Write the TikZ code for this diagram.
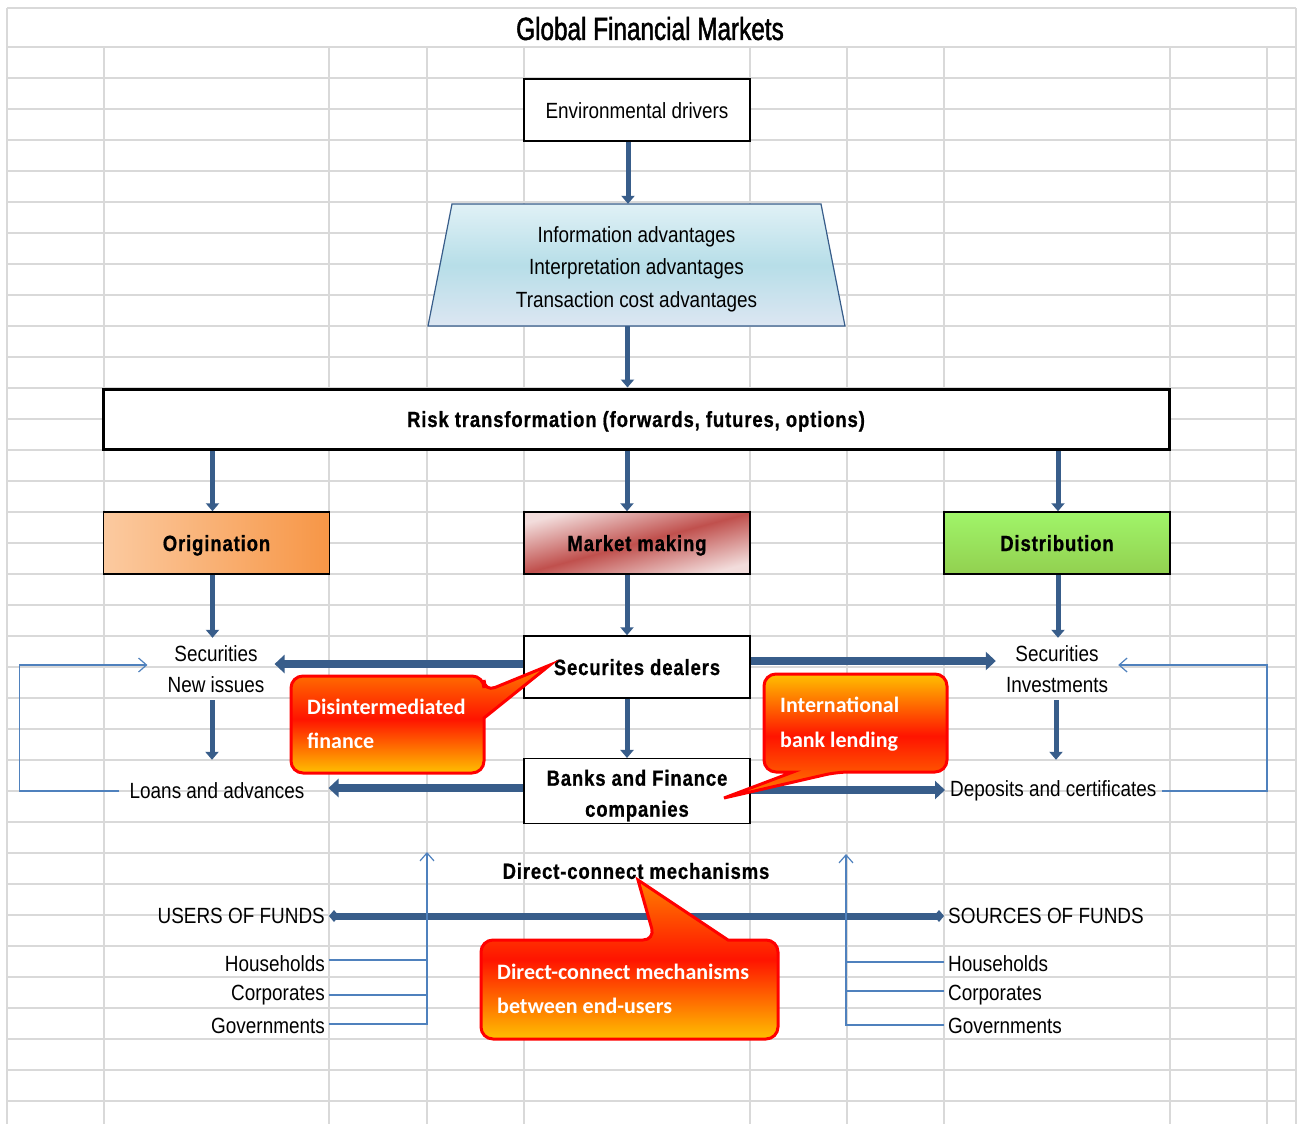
\documentclass[tikz,border=0pt]{standalone}
\usepackage{fontspec}
\setmainfont{Liberation Sans}[FakeStretch=0.86]
\newfontfamily\headfont{Liberation Sans}[FakeStretch=0.84,LetterSpace=4,FakeBold=0.8]
\newfontfamily\titlefont{Liberation Sans}[FakeStretch=0.76,FakeBold=1.5]
\newfontfamily\notefont{Carlito}
\definecolor{flowblue}{RGB}{56,93,138}
\definecolor{linkblue}{RGB}{79,129,189}
\definecolor{gridgray}{RGB}{217,217,217}
\definecolor{trapTop}{RGB}{224,241,246}
\definecolor{trapMid}{RGB}{183,222,232}
\definecolor{trapBot}{RGB}{220,230,242}
\definecolor{origLight}{RGB}{251,202,160}
\definecolor{origDark}{RGB}{247,150,70}
\definecolor{mmLight}{RGB}{242,220,219}
\definecolor{mmDark}{RGB}{192,80,77}
\definecolor{distLight}{RGB}{160,245,105}
\definecolor{distDark}{RGB}{146,208,80}
\definecolor{fireorange}{RGB}{255,128,0}
\definecolor{firered}{RGB}{255,20,0}
\definecolor{firegold}{RGB}{255,192,0}
\usetikzlibrary{arrows.meta}

\begin{document}
\begin{tikzpicture}[x=1pt,y=-1pt,
    gridline/.style={gridgray,line width=1.5pt},
    flow/.style={flowblue,line width=5pt,-{Triangle[width=13pt,length=8pt]}},
    wideflow/.style={flowblue,line width=8pt,-{Triangle[width=18pt,length=10pt]}},
    fundline/.style={flowblue,line width=7pt,{Diamond[width=12pt,length=10pt]}-{Diamond[width=12pt,length=10pt]}},
    link/.style={linkblue,line width=1.2pt},
    linkto/.style={link,-{Straight Barb[width=14pt,length=8pt]}},
    txt/.style={font=\fontsize{22}{31}\selectfont,inner ysep=0pt,inner xsep=4pt},
    head/.style={font=\headfont\bfseries\fontsize{22}{31}\selectfont},
    oneline/.style={text height=16pt,text depth=0pt},
    cell/.style={draw,line width=1.5pt,minimum width=226pt,minimum height=62pt,inner sep=2pt},
    bubble/.style={draw=red,line width=3pt,rounded corners=12pt},
    bubbletxt/.style={text=white,align=left,anchor=west,inner sep=0pt,
      font=\notefont\bfseries\fontsize{22}{34.5}\selectfont}]
  \fill[white] (0,0) rectangle (1304,1124);
  \foreach \gy in {0,...,34}
    \draw[gridline] (7,{47+31*\gy}) -- (1296,{47+31*\gy});
  \draw[gridline] (7,8) -- (1296,8);
  \foreach \gx in {7,1296}
    \draw[gridline] (\gx,8) -- (\gx,1124);
  \foreach \gx in {104,329,427,524,750,847,944,1170,1267}
    \draw[gridline] (\gx,47) -- (\gx,1124);

  \node[font=\titlefont\fontsize{32}{36}\selectfont] (title) at (650,28.5) {Global Financial Markets};

  \node[cell,fill=white,txt,oneline] (env) at (637,110) {Environmental drivers};
  \shadedraw[top color=trapTop,bottom color=trapBot,middle color=trapMid,draw=flowblue,line width=1.2pt]
    (452,204) -- (821,204) -- (845,326) -- (428,326) -- cycle;
  \node[align=center,minimum width=417pt,minimum height=122pt,inner sep=0pt,font=\fontsize{22}{32.5}\selectfont]
    (adv) at (636.5,265) {\rule{0pt}{24pt}Information advantages\\Interpretation advantages\\Transaction cost advantages};
  \node[cell,fill=white,head,oneline,line width=3pt,minimum width=1066pt,minimum height=60pt] (risk) at (636,419)
    {Risk transformation (forwards, futures, options)};

  \node[cell,head,oneline,left color=origLight,right color=origDark] (orig) at (216.5,543) {Origination};
  \node[cell,head,oneline,top color=mmLight,bottom color=mmLight,middle color=mmDark,shading angle=15] (mm) at (637,543) {Market making};
  \node[cell,head,oneline,top color=distLight,bottom color=distDark] (dist) at (1057,543) {Distribution};

  \node[txt,align=center,inner xsep=10pt,minimum height=62pt] (secl) at (216,669) {Securities\\New issues};
  \node[cell,fill=white,head,oneline] (dealers) at (637,667) {Securites dealers};
  \node[txt,align=center,inner xsep=10pt,minimum height=62pt] (secr) at (1057,669) {Securities\\Investments};
  \node[txt,inner xsep=10pt,minimum height=62pt] (loans) at (217,791) {Loans and advances};
  \node[cell,fill=white,head,align=center] (banks) at (637,791) {\rule{0pt}{25pt}Banks and Finance\\companies};
  \node[txt,anchor=west,inner xsep=5pt,minimum height=62pt] (dep) at (945,791) {Deposits and certificates};

  \draw[flow] ([xshift=-9pt]env.south) -- ([xshift=-9pt]env.south |- adv.north);
  \draw[flow] ([xshift=-9pt]adv.south) -- ([xshift=-9pt]adv.south |- risk.north);
  \draw[flow] ([xshift=-4pt]orig.north |- risk.south) -- ([xshift=-4pt]orig.north);
  \draw[flow] ([xshift=-10pt]mm.north |- risk.south) -- ([xshift=-10pt]mm.north);
  \draw[flow] ([xshift=1pt]dist.north |- risk.south) -- ([xshift=1pt]dist.north);
  \draw[flow] ([xshift=-4pt]orig.south) -- ([xshift=-4pt]orig.south |- secl.north);
  \draw[flow] ([xshift=-10pt]mm.south) -- ([xshift=-10pt]mm.south |- dealers.north);
  \draw[flow] ([xshift=1pt]dist.south) -- ([xshift=1pt]dist.south |- secr.north);
  \draw[flow] ([xshift=-4pt]secl.south) -- ([xshift=-4pt]secl.south |- loans.north);
  \draw[flow] ([xshift=-10pt]dealers.south) -- ([xshift=-10pt]dealers.south |- banks.north);
  \draw[flow] ([xshift=-1pt]secr.south) -- ([xshift=-1pt]secr.south |- dep.north);
  \draw[wideflow] ([yshift=3pt]dealers.west) -- ([yshift=3pt]dealers.west -| secl.east);
  \draw[wideflow] ([yshift=6pt]dealers.east) -- ([yshift=6pt]dealers.east -| secr.west);
  \draw[wideflow,shorten >=14pt] ([yshift=3pt]banks.west) -- ([yshift=3pt]banks.west -| loans.east);
  \draw[wideflow] ([yshift=1pt]banks.east) -- ([yshift=1pt]banks.east -| dep.west);
  \draw[linkto,shorten >=10pt] (loans.west) -- ++(-100,0) |- ([yshift=4pt]secl.west);
  \draw[linkto] (dep.east) -- (1267,791) |- ([yshift=4pt]secr.east);

  \node[head] (dclabel) at (636,871) {Direct-connect mechanisms};
  \node[txt,anchor=east] (users) at (329,916) {USERS OF FUNDS};
  \node[txt,anchor=west] (sources) at (944,916) {SOURCES OF FUNDS};
  \node[txt,anchor=east] (hhl) at (329,964) {Households};
  \node[txt,anchor=east] (corl) at (329,995) {Corporates};
  \node[txt,anchor=east] (govl) at (329,1026) {Governments};
  \node[txt,anchor=west] (hhr) at (944,964) {Households};
  \node[txt,anchor=west] (corr) at (944,995) {Corporates};
  \node[txt,anchor=west] (govr) at (944,1026) {Governments};
  \coordinate (upl) at (427,852);
  \coordinate (upr) at (846,854);
  \draw[fundline] (users.east) -- (sources.west);
  \draw[link] ([yshift=4pt]hhl.east) -- ([yshift=4pt]hhl.east -| upl);
  \draw[link] (corl.east) -- (corl.east -| upl);
  \draw[linkto] ([yshift=2pt]govl.east) -| (upl);
  \draw[link] ([yshift=2pt]hhr.west) -- ([yshift=2pt]hhr.west -| upr);
  \draw[link] ([yshift=4pt]corr.west) -- ([yshift=4pt]corr.west -| upr);
  \draw[linkto] ([yshift=1pt]govr.west) -| (upr);

  \shadedraw[bubble,top color=fireorange,bottom color=firegold,middle color=firered]
    (291,676) -- (484,676) -- (484,692) [sharp corners] -- (550,665) -- (484,718) [rounded corners=12pt]
    -- (484,773) -- (291,773) -- cycle;
  \node[bubbletxt] (dtxt) at (307,724) {Disintermediated\\finance};
  \shadedraw[bubble,top color=firegold,bottom color=fireorange,middle color=firered]
    (764,674) -- (947,674) -- (947,772) -- (837,772) [sharp corners] -- (724,798) -- (793,772) [rounded corners=12pt]
    -- (764,772) -- cycle;
  \node[bubbletxt] (itxt) at (780,724) {International\\bank lending};
  \shadedraw[bubble,top color=fireorange,bottom color=firegold,middle color=firered]
    (481,940) -- (655,940) [sharp corners] -- (638,880) -- (728,940) [rounded corners=12pt]
    -- (778,940) -- (778,1039) -- (481,1039) -- cycle;
  \node[bubbletxt] (ctxt) at (497,989) {Direct-connect mechanisms\\between end-users};
\end{tikzpicture}
\end{document}
